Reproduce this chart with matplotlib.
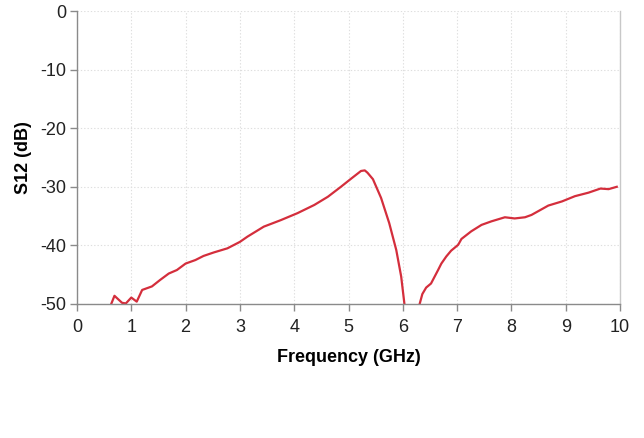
import matplotlib
matplotlib.use("Agg")
import matplotlib.pyplot as plt
import numpy as np

plt.rcParams['font.family'] = ['Liberation Sans', 'DejaVu Sans']
plt.rcParams['axes.unicode_minus'] = False

# Branch 1 (low band up to the notch)
freq1 = [0.63, 0.69, 0.83, 0.90, 1.00, 1.10, 1.20, 1.38, 1.53, 1.69, 1.84, 2.00,
         2.18, 2.33, 2.52, 2.77, 3.00, 3.14, 3.44, 3.75, 4.06, 4.37, 4.62, 4.86,
         5.05, 5.23, 5.30, 5.35, 5.45, 5.60, 5.75, 5.88, 5.97, 6.03]
s12_1 = [-50.0, -48.6, -49.8, -49.9, -48.9, -49.6, -47.6, -47.0, -45.9, -44.8, -44.2, -43.1,
         -42.5, -41.8, -41.2, -40.5, -39.4, -38.5, -36.8, -35.7, -34.5, -33.1, -31.7, -30.0,
         -28.6, -27.3, -27.2, -27.6, -28.7, -31.9, -36.2, -40.8, -45.3, -50.0]
# Branch 2 (after the notch)
freq2 = [6.31, 6.36, 6.43, 6.52, 6.65, 6.71, 6.80, 6.89, 7.02, 7.08, 7.26, 7.45, 7.63,
         7.88, 8.06, 8.25, 8.37, 8.68, 8.93, 9.17, 9.42, 9.64, 9.79, 9.94]
s12_2 = [-50.0, -48.3, -47.2, -46.5, -44.2, -43.1, -41.9, -40.9, -39.9, -38.9, -37.6, -36.5, -35.9,
         -35.2, -35.4, -35.2, -34.8, -33.2, -32.5, -31.6, -31.0, -30.3, -30.4, -30.0]

xticks = list(range(0, 11))
yticks = [0, -10, -20, -30, -40, -50]

fig = plt.figure(figsize=(6.44, 4.38), dpi=100)
ax = fig.add_axes([77/644, 1-304/438, (620-77)/644, (304-11)/438])

red = '#d42e3c'
ax.plot(freq1, s12_1, color=red, lw=1.6, solid_joinstyle='round')
ax.plot(freq2, s12_2, color=red, lw=1.6, solid_joinstyle='round')

ax.set_xlim(0, 10)
ax.set_ylim(-50, 0)
ax.set_xticks(xticks)
ax.set_yticks(yticks)
ax.grid(True, color='#dedede', linestyle=(0, (1.2, 1.8)), linewidth=0.8)
ax.set_axisbelow(True)

for s in ['left', 'bottom']:
    ax.spines[s].set_color('#8a8a8a')
    ax.spines[s].set_linewidth(1.0)
ax.spines['top'].set_visible(False)
ax.spines['right'].set_color('#c8c8c8')
ax.spines['right'].set_linewidth(1.0)

ax.tick_params(axis='both', direction='out', length=5, color='#8a8a8a', width=1.0,
               labelsize=13, labelcolor='#222222')
ax.tick_params(axis='x', pad=6)
ax.tick_params(axis='y', pad=3)

ax.set_xlabel('Frequency (GHz)', fontsize=13, fontweight='bold', labelpad=9)
ax.set_ylabel('S12 (dB)', fontsize=13, fontweight='bold', labelpad=6)

fig.savefig('out.png', dpi=100)
